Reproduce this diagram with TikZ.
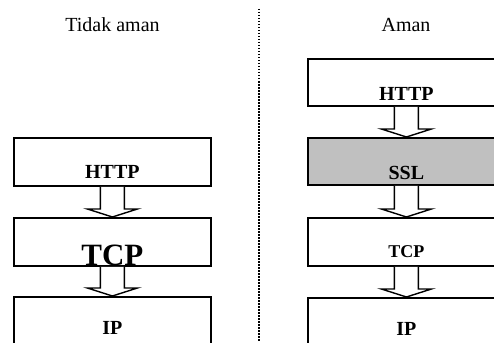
\documentclass[tikz,border=0pt]{standalone}
\usepackage{fontspec}
\setmainfont{Liberation Serif}
\newcommand\blockarr[2]{%
  \draw[arrowline] ([xshift=-12pt]#1.south)
    -- ([xshift=-12pt,yshift=8pt]#2.north)
    -- ([xshift=-25pt,yshift=8pt]#2.north)
    -- (#2.north)
    -- ([xshift=25pt,yshift=8pt]#2.north)
    -- ([xshift=12pt,yshift=8pt]#2.north)
    -- ([xshift=12pt]#1.south);}
\begin{document}
\begin{tikzpicture}[x=1pt,y=-1pt,
  layer/.style={draw, line width=1.8pt, minimum width=197pt, inner sep=0pt,
    anchor=north west, fill=white, font=\fontsize{20}{20}\selectfont\bfseries},
  title/.style={anchor=base, inner sep=0pt, font=\fontsize{20}{20}\selectfont},
  arrowline/.style={draw, fill=white, line width=1.4pt, line join=miter},
  divider/.style={line width=1.2pt, dash pattern=on 1.5pt off 1.5pt}]
\clip (0,0) rectangle (494,342);
\fill[white] (0,0) rectangle (494,342);
% titles
\node[title] (tleft) at (112.5,32) {Tidak aman};
\node[title] (tright) at (406,32) {Aman};
% divider
\coordinate (dtop) at (259,9);
\coordinate (dbot) at (259,342);
\draw[divider] (dtop) -- (dbot);
% left stack
\node[layer, text height=41pt, text depth=7pt] (lhttp) at (13,137) {HTTP};
\node[layer, text height=48pt, text depth=0pt, font=\fontsize{31}{31}\selectfont\bfseries] (ltcp) at (13,217) {TCP};
\node[layer, text height=38pt, text depth=10pt] (lip) at (13,296) {IP};
% right stack
\node[layer, text height=42pt, text depth=5pt] (rhttp) at (307,58) {HTTP};
\node[layer, text height=42pt, text depth=5pt, fill={rgb,255:red,192;green,192;blue,192}] (rssl) at (307,137) {SSL};
\node[layer, text height=40pt, text depth=8pt, font=\fontsize{18}{18}\selectfont\bfseries] (rtcp) at (307,217) {TCP};
\node[layer, text height=38pt, text depth=10pt] (rip) at (307,297) {IP};
% arrows
\blockarr{lhttp}{ltcp}
\blockarr{ltcp}{lip}
\blockarr{rhttp}{rssl}
\blockarr{rssl}{rtcp}
\blockarr{rtcp}{rip}
\end{tikzpicture}
\end{document}
